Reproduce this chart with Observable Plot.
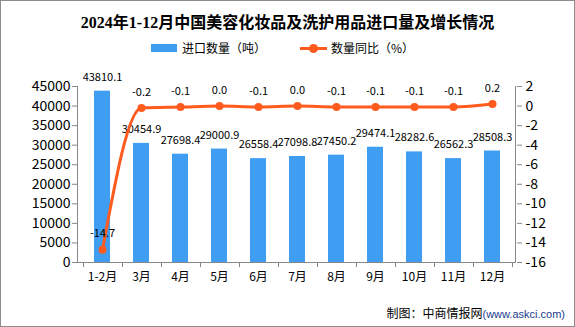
<!DOCTYPE html>
<html><head><meta charset="utf-8">
<script src="https://cdn.jsdelivr.net/npm/d3@7"></script>
<script src="https://cdn.jsdelivr.net/npm/@observablehq/plot@0.6"></script>
<style>
body{margin:0;background:#fff;}
#wrap{position:relative;width:575px;height:327px;box-shadow:inset 0 0 0 1px #8c8c8c;overflow:hidden;font-family:"Noto Sans CJK SC",sans-serif;color:#000;}
#title{position:absolute;left:0;width:575px;top:11px;text-align:center;font-weight:bold;font-size:16px;line-height:24px;font-family:"Liberation Serif","Noto Sans CJK SC",serif;}
.lg{position:absolute;font-size:12px;line-height:16px;top:40px;white-space:nowrap;}
#chart{position:absolute;left:0;top:60px;}
#caption{position:absolute;right:10px;top:304px;font-size:12px;line-height:18px;white-space:nowrap;}
#caption span{font-family:"Liberation Sans",Arial,sans-serif;font-size:11px;color:#1b3c8c;}
</style></head>
<body>
<div id="wrap">
  <div id="title">2024年1-12月中国美容化妆品及洗护用品进口量及增长情况</div>
  <div style="position:absolute;left:151px;top:44px;width:26px;height:8px;background:#3f9ef2"></div>
  <div class="lg" style="left:182px">进口数量（吨）</div>
  <div style="position:absolute;left:300px;top:47px;width:27px;height:3px;background:#ff5b1f"></div>
  <div style="position:absolute;left:309px;top:44px;width:9px;height:9px;border-radius:50%;background:#ff5b1f"></div>
  <div class="lg" style="left:331px">数量同比（%）</div>
  <div id="chart"></div>
  <div id="caption">制图：中商情报网<span>(www.askci.com)</span></div>
</div>
<script>
const months = ["1-2月","3月","4月","5月","6月","7月","8月","9月","10月","11月","12月"];
const volume = [43810.1, 30454.9, 27698.4, 29000.9, 26558.4, 27098.8, 27450.2, 29474.1, 28282.6, 26562.3, 28508.3];
const growth = [-14.7, -0.2, -0.1, 0.0, -0.1, 0.0, -0.1, -0.1, -0.1, -0.1, 0.2];
const leftTicks = [0, 5000, 10000, 15000, 20000, 25000, 30000, 35000, 40000, 45000];
const rightTicks = [-16, -14, -12, -10, -8, -6, -4, -2, 0, 2];

const lMax = 45000, rMin = -16, rMax = 2;
const toLeft = v => (v - rMin) / (rMax - rMin) * lMax;
const fromLeft = v => v / lMax * (rMax - rMin) + rMin;
const rows = months.map((m, i) => ({month: m, volume: volume[i], growth: growth[i], g: toLeft(growth[i])}));

const axisGray = "#888";
const chart = Plot.plot({
  width: 575, height: 240,
  marginTop: 26, marginBottom: 38, marginLeft: 77, marginRight: 59,
  x: {type: "band", domain: months, paddingInner: 0.6, paddingOuter: 0.3},
  y: {domain: [0, lMax]},
  style: {fontFamily: "'Noto Sans CJK SC', sans-serif", fontSize: "12px", color: "#000", background: "transparent", overflow: "visible"},
  marks: [
    Plot.barY(rows, {x: "month", y: "volume", fill: "#3f9ef2"}),
    Plot.text(rows, {x: "month", y: "volume", text: d => d.volume.toFixed(1), dy: -14, fontSize: 11, fill: "#000"}),
    Plot.ruleY([0], {stroke: axisGray}),
    Plot.line(rows, {x: "month", y: "g", stroke: "#ff5b1f", strokeWidth: 3, curve: "monotone-x"}),
    Plot.dot(rows, {x: "month", y: "g", r: 4, fill: "#ff5b1f"}),
    Plot.text(rows, {x: "month", y: "g", text: d => d.growth.toFixed(1), dy: -16, fontSize: 11, fill: "#000"}),
    Plot.axisY(leftTicks, {anchor: "left", tickSize: 5, tickPadding: 2, stroke: axisGray, fill: "#000", fontSize: 14, tickFormat: d => String(d), label: null}),
    Plot.axisY(rightTicks.map(toLeft), {anchor: "right", tickSize: 5, tickPadding: 4, stroke: axisGray, fill: "#000", fontSize: 14, tickFormat: d => String(Math.round(fromLeft(d))), label: null}),
    Plot.axisX({tickSize: 0, tickPadding: 10, fontSize: 12, fill: "#000", label: null})
  ]
});
document.getElementById("chart").appendChild(chart);

// axis lines and band-boundary ticks drawn from Plot's own scales
const xs = chart.scale("x"), ys = chart.scale("y");
const svg = d3.select(chart);
const g = svg.append("g").attr("stroke", axisGray).attr("stroke-width", 1);
const [x0, x1] = xs.range;
const yb = ys.apply(0), yt = ys.apply(lMax);
g.append("line").attr("x1", x0 + 0.5).attr("x2", x0 + 0.5).attr("y1", yb).attr("y2", yt);
g.append("line").attr("x1", x1 - 0.5).attr("x2", x1 - 0.5).attr("y1", yb).attr("y2", yt);
const gap = (xs.step - xs.bandwidth) / 2;
const bounds = months.map(m => xs.apply(m) - gap).concat([xs.apply(months[months.length - 1]) + xs.bandwidth + gap]);
g.selectAll("line.bt").data(bounds).join("line").attr("class", "bt")
  .attr("x1", d => Math.round(d) + 0.5).attr("x2", d => Math.round(d) + 0.5)
  .attr("y1", yb).attr("y2", yb + 5);
</script>
</body></html>
